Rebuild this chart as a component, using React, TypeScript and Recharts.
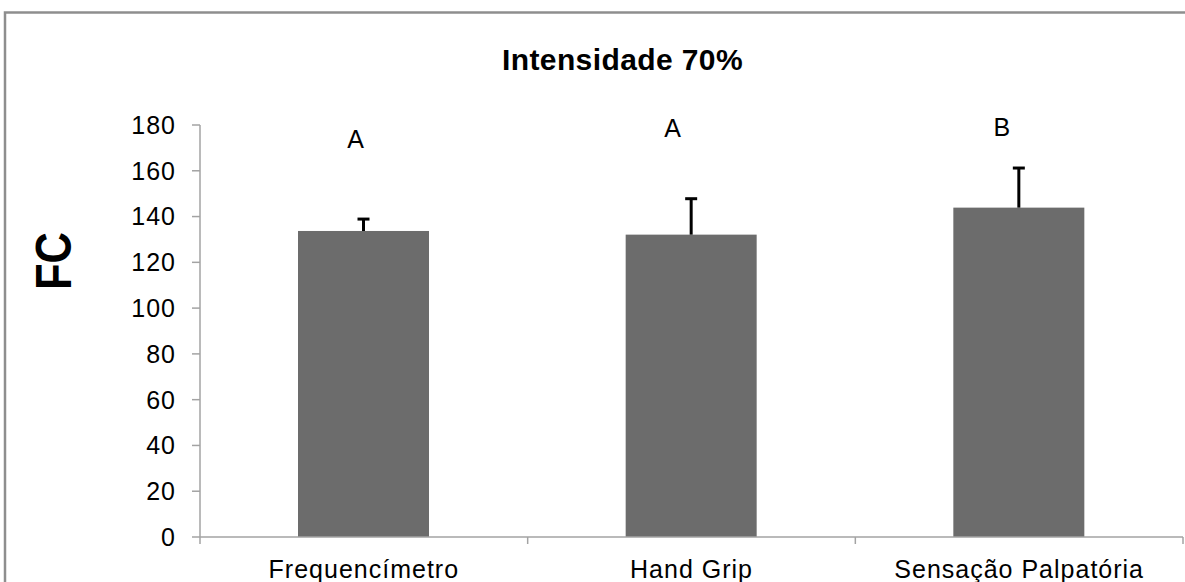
import { BarChart, Bar, XAxis, YAxis, LabelList } from 'recharts';

const CATEGORIES = ['Frequencímetro', 'Hand Grip', 'Sensação Palpatória'];
const FC = [133.7, 132.1, 143.9];
const FC_ERR = [5.2, 15.7, 17.3];
const LETTERS = ['A', 'A', 'B'];
const Y_TICKS = [0, 20, 40, 60, 80, 100, 120, 140, 160, 180];

// where the significance letters sit (axis units) and their nudge from the bar centre
const LETTER_LEVEL = [173.7, 178.7, 179.2];
const LETTER_DX = [-8, -18.5, -17];

const data = CATEGORIES.map((name, i) => ({
  name,
  fc: FC[i],
  err: FC_ERR[i],
  letter: LETTERS[i]
}));

const FONT = '"Liberation Sans", Arial, sans-serif';
const AXIS = '#a3a3a3';
const X_TICK_SIZE = 7;
const X_TICK_MARGIN = 16;

function BarWithError(props: any) {
  const { x, y, width, height, payload, fill } = props;
  const perUnit = height / payload.fc;
  const top = y - payload.err * perUnit;
  const cx = x + width / 2;
  return (
    <g>
      <rect x={x} y={y} width={width} height={height} fill={fill} />
      <line x1={cx} x2={cx} y1={y} y2={top} stroke="#000" strokeWidth={3} />
      <line x1={cx - 6} x2={cx + 6} y1={top} y2={top} stroke="#000" strokeWidth={3} />
    </g>
  );
}

function XTick(props: any) {
  const { x, y, payload, index } = props;
  const half = payload?.offset ? payload.offset : 983 / CATEGORIES.length / 2;
  const y1 = y - X_TICK_MARGIN - X_TICK_SIZE;
  const y2 = y - X_TICK_MARGIN;
  return (
    <g>
      <line x1={x - half} x2={x - half} y1={y1} y2={y2} stroke={AXIS} strokeWidth={1.5} />
      {index === CATEGORIES.length - 1 && (
        <line x1={x + half} x2={x + half} y1={y1} y2={y2} stroke={AXIS} strokeWidth={1.5} />
      )}
      <text
        x={x}
        y={y}
        dy="0.71em"
        textAnchor="middle"
        fill="#000"
        fontSize={25}
        letterSpacing={1}
        fontFamily={FONT}
      >
        {payload.value}
      </text>
    </g>
  );
}

function Letter(props: any) {
  const vb = props.viewBox ?? props;
  const x = props.x ?? vb.x;
  const y = props.y ?? vb.y;
  const width = props.width ?? vb.width;
  const height = props.height ?? vb.height;
  const index = props.index ?? 0;
  const perUnit = height / FC[index];
  const ly = y + height - LETTER_LEVEL[index] * perUnit;
  return (
    <text
      x={x + width / 2 + LETTER_DX[index]}
      y={ly}
      dy="0.36em"
      textAnchor="middle"
      fontSize={25}
      fill="#000"
      fontFamily={FONT}
    >
      {props.value}
    </text>
  );
}

export default function App() {
  return (
    <div style={{ position: 'absolute', left: 0, top: 0, width: 1185, height: 582, background: '#fff' }}>
      <BarChart
        width={1185}
        height={582}
        data={data}
        margin={{ top: 125, right: 2, bottom: 0, left: 0 }}
        barCategoryGap="30%"
      >
        <XAxis
          dataKey="name"
          height={45}
          interval={0}
          stroke={AXIS}
          strokeWidth={1.5}
          tickSize={X_TICK_SIZE}
          tickMargin={X_TICK_MARGIN}
          tickLine={{ stroke: 'none' }}
          tick={<XTick />}
        />
        <YAxis
          width={200}
          domain={[0, 180]}
          ticks={Y_TICKS}
          interval={0}
          stroke={AXIS}
          strokeWidth={1.5}
          tickSize={8}
          tickMargin={16}
          tick={{ fill: '#000', fontSize: 25, fontFamily: FONT, letterSpacing: 1 }}
        />
        <Bar
          dataKey="fc"
          fill="#6c6c6c"
          barSize={131}
          shape={<BarWithError />}
          isAnimationActive={false}
        >
          <LabelList dataKey="letter" content={<Letter />} />
        </Bar>
      </BarChart>
      <svg
        width={1185}
        height={582}
        style={{ position: 'absolute', left: 0, top: 0, pointerEvents: 'none' }}
      >
        <rect x={5} y={12.5} width={1300} height={700} fill="none" stroke="#8e8e8e" strokeWidth={2.5} />
        <text
          x={622.5}
          y={70}
          textAnchor="middle"
          fontSize={30}
          fontWeight="bold"
          letterSpacing={0.4}
          fontFamily={FONT}
          fill="#000"
        >
          Intensidade 70%
        </text>
        <text
          transform="translate(70.5, 261) rotate(-90)"
          textAnchor="middle"
          fontSize={50}
          fontWeight="bold"
          textLength={58}
          lengthAdjust="spacingAndGlyphs"
          fontFamily={FONT}
          fill="#000"
        >
          FC
        </text>
      </svg>
    </div>
  );
}
